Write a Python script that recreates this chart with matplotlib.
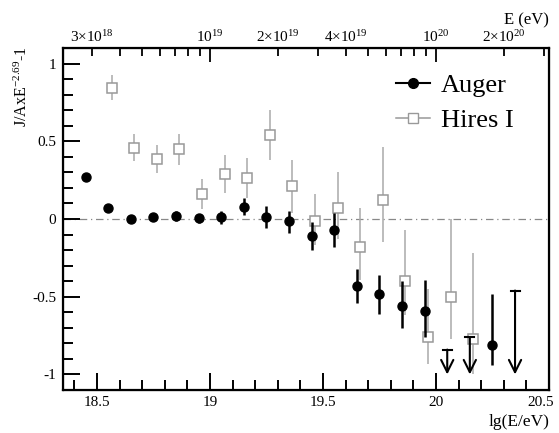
import numpy as np
import matplotlib
matplotlib.use('Agg')
import matplotlib.pyplot as plt
import matplotlib.transforms as mtrans
from matplotlib.lines import Line2D

plt.rcParams['font.family'] = ['Liberation Serif', 'DejaVu Serif']
plt.rcParams['mathtext.fontset'] = 'custom'
plt.rcParams['mathtext.rm'] = 'Liberation Serif'
plt.rcParams['mathtext.it'] = 'Liberation Serif:italic'

# Auger (puntos llenos)
auger_x = [18.45, 18.55, 18.65, 18.75, 18.85, 18.95, 19.05, 19.15, 19.25, 19.35,
           19.45, 19.55, 19.65, 19.75, 19.85, 19.95, 20.25]
auger_y = [0.27, 0.07, 0.0, 0.01, 0.02, 0.005, 0.01, 0.075, 0.015, -0.01,
           -0.11, -0.07, -0.43, -0.485, -0.56, -0.59, -0.81]
auger_lo = [0.015, 0.02, 0.02, 0.02, 0.03, 0.03, 0.04, 0.05, 0.07, 0.08,
            0.09, 0.11, 0.11, 0.125, 0.14, 0.17, 0.13]
auger_hi = [0.015, 0.02, 0.02, 0.02, 0.03, 0.03, 0.04, 0.06, 0.07, 0.06,
            0.09, 0.11, 0.11, 0.125, 0.16, 0.20, 0.33]

# Auger limites superiores
lim_x = [20.05, 20.15, 20.35]
lim_y = [-0.84, -0.76, -0.46]

# Hires I (cuadrados abiertos)
hires_x = [18.565, 18.665, 18.765, 18.865, 18.965, 19.065, 19.165, 19.265, 19.365,
           19.465, 19.565, 19.665, 19.765, 19.865, 19.965, 20.065, 20.165]
hires_y = [0.845, 0.46, 0.385, 0.45, 0.16, 0.29, 0.265, 0.54, 0.21,
           -0.01, 0.07, -0.18, 0.125, -0.40, -0.76, -0.50, -0.77]
hires_lo = [0.08, 0.085, 0.09, 0.10, 0.095, 0.12, 0.13, 0.16, 0.17,
            0.16, 0.20, 0.21, 0.27, 0.22, 0.17, 0.27, 0.23]
hires_hi = [0.08, 0.085, 0.09, 0.10, 0.095, 0.12, 0.13, 0.16, 0.17,
            0.17, 0.23, 0.25, 0.34, 0.33, 0.31, 0.50, 0.55]

# eje superior: energia en eV
top_major = [1e19, 1e20]
top_minor = [3e18, 4e18, 5e18, 6e18, 7e18, 8e18, 9e18,
             2e19, 3e19, 4e19, 5e19, 6e19, 7e19, 8e19, 9e19,
             2e20, 3e20]
top_lab = {3e18: r'3$\times$10$^{18}$', 2e19: r'2$\times$10$^{19}$',
           4e19: r'4$\times$10$^{19}$', 2e20: r'2$\times$10$^{20}$'}

fig = plt.figure(figsize=(5.59, 4.33), dpi=100)
ax = fig.add_axes([0.1127, 0.0993, 0.8693, 0.7897])

ax.axhline(0, color='#888888', lw=0.9, ls=(0, (6, 3, 1, 3)), zorder=1)

ax.errorbar(hires_x, hires_y, yerr=[hires_lo, hires_hi], fmt='s', ms=7,
            mfc='white', mec='#999999', mew=1.1, ecolor='#aaaaaa', elinewidth=1.1,
            capsize=0, zorder=2)
ax.errorbar(auger_x, auger_y, yerr=[auger_lo, auger_hi], fmt='o', ms=6.5,
            mfc='black', mec='black', ecolor='black', elinewidth=1.8,
            capsize=0, zorder=3)

for xl, yl in zip(lim_x, lim_y):
    ax.plot([xl - 0.02, xl + 0.02], [yl, yl], color='black', lw=1.5, zorder=3)
    ax.annotate('', xy=(xl, -1.0), xytext=(xl, yl),
                arrowprops=dict(arrowstyle='->', color='black', lw=1.5,
                                mutation_scale=22, shrinkA=0, shrinkB=0), zorder=3)

ax.set_xlim(18.35, 20.5)
ax.set_ylim(-1.1, 1.1)
ax.set_xticks([18.5, 19, 19.5, 20, 20.5])
ax.set_xticklabels(['18.5', '19', '19.5', '20', '20.5'])
ax.set_xticks(np.arange(18.4, 20.5, 0.1), minor=True)
ax.set_yticks([-1, -0.5, 0, 0.5, 1])
ax.set_yticklabels(['-1', '-0.5', '0', '0.5', '1'])
ax.set_yticks(np.arange(-1.0, 1.05, 0.1), minor=True)
ax.tick_params(which='both', direction='in', width=1.4, labelsize=11, top=False, right=False)
ax.tick_params(which='major', length=12, pad=5)
ax.tick_params(which='minor', length=7)
ax.tick_params(axis='x', which='major', pad=4)
for s in ax.spines.values():
    s.set_linewidth(1.6)

# el ultimo rotulo (20.5) un poco a la izquierda para que no quede cortado
ultimo = ax.get_xticklabels()[-1]
ultimo.set_transform(ultimo.get_transform() +
                     mtrans.ScaledTranslation(-6 / 72, 0, fig.dpi_scale_trans))

fig.text(549 / 559, 1 - 422 / 433, 'lg(E/eV)', ha='right', va='center', fontsize=12.5)
fig.text(22 / 559, 1 - 46 / 433, r'J/AxE$^{-2.69}$-1', rotation=90,
         ha='center', va='top', fontsize=11.5)

ax2 = ax.twiny()
ax2.set_xlim(ax.get_xlim())
ax2.set_xticks(np.log10(top_major))
ax2.set_xticklabels([r'10$^{19}$', r'10$^{20}$'])
ax2.set_xticks(np.log10(top_minor), minor=True)
ax2.set_xticklabels([top_lab.get(v, '') for v in top_minor], minor=True)
ax2.tick_params(which='both', direction='in', width=1.3, labelsize=11, pad=2)
ax2.tick_params(which='major', length=10)
ax2.tick_params(which='minor', length=6)
fig.text(549 / 559, 1 - 20 / 433, 'E (eV)', ha='right', va='center', fontsize=12)

handles = [Line2D([], [], color='black', marker='o', ms=7, lw=1.5),
           Line2D([], [], color='#999999', marker='s', ms=7, mfc='white', lw=1.1)]
ax.legend(handles, ['Auger', 'Hires I'], loc='center left', bbox_to_anchor=(0.685, 0.84),
          frameon=False, fontsize=19, handlelength=1.3, handletextpad=0.4,
          labelspacing=0.45, borderpad=0, borderaxespad=0)

fig.savefig('out.png', dpi=100)
